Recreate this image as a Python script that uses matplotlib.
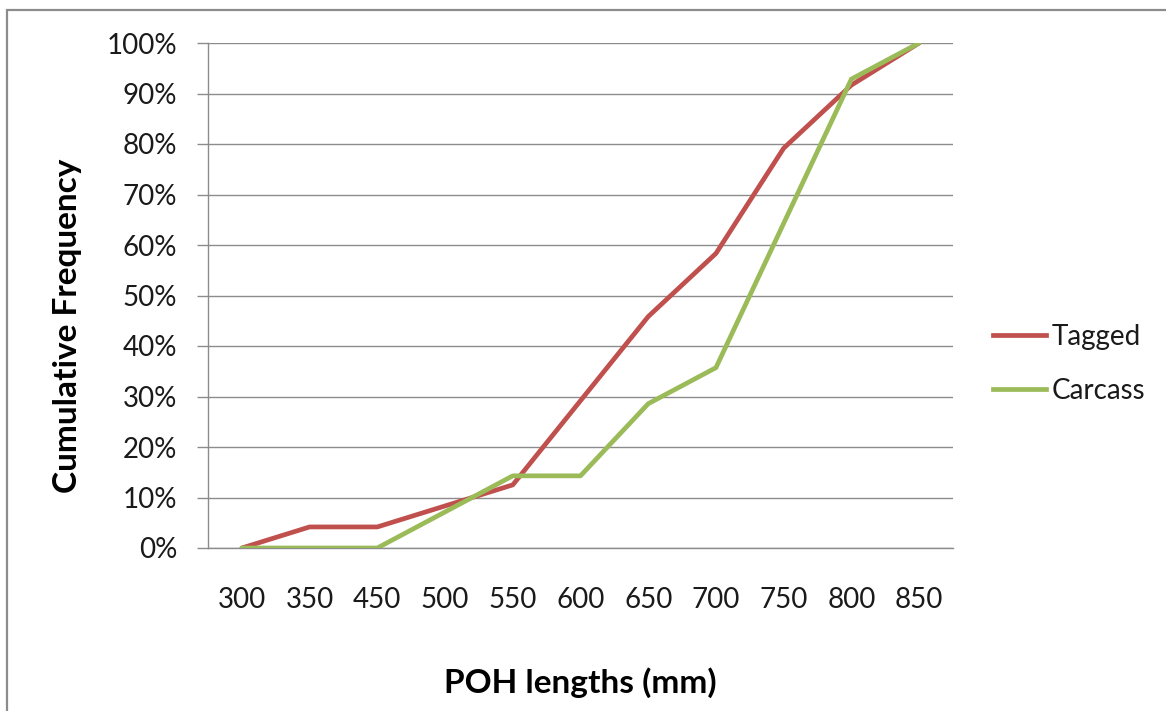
import matplotlib
matplotlib.use("Agg")
import matplotlib.pyplot as plt
from matplotlib.lines import Line2D
from matplotlib.patches import Rectangle
from matplotlib.ticker import PercentFormatter

categories = ["300", "350", "450", "500", "550", "600", "650", "700", "750", "800", "850"]
tagged = [0.0, 4.17, 4.17, 8.33, 12.5, 29.17, 45.83, 58.33, 79.17, 91.67, 100.0]
carcass = [0.0, 0.0, 0.0, 7.14, 14.29, 14.29, 28.57, 35.71, 64.29, 92.86, 100.0]
yticks = [0, 10, 20, 30, 40, 50, 60, 70, 80, 90, 100]

plt.rcParams['font.family'] = ['Lato', 'DejaVu Sans']

W, H = 1166, 711
fig = plt.figure(figsize=(W / 100, H / 100), dpi=100)
fig.patch.set_facecolor("white")

# outer frame
fig.patches.append(Rectangle((7 / W, -0.05), 1.2, (H - 9.5) / H + 0.05, transform=fig.transFigure,
                             fill=False, edgecolor="#8c8c8c", linewidth=1.6, zorder=0))

ax = fig.add_axes([208 / W, (H - 548) / H, (953 - 208) / W, (548 - 43) / H])
x = list(range(len(categories)))
ax.plot(x, tagged, color="#C0504D", linewidth=3.4, solid_capstyle="round", solid_joinstyle="round", zorder=3)
ax.plot(x, carcass, color="#9BBB59", linewidth=3.4, solid_capstyle="round", solid_joinstyle="round", zorder=3)

ax.set_xlim(-0.5, len(categories) - 0.5)
ax.set_ylim(0, 100)
ax.set_yticks(yticks)
ax.yaxis.set_major_formatter(PercentFormatter(decimals=0))
ax.set_xticks(x)
ax.set_xticklabels(categories)
ax.yaxis.grid(True, color="#8c8c8c", linewidth=1.0)
ax.set_axisbelow(True)
for s in ["top", "right"]:
    ax.spines[s].set_visible(False)
for s in ["left", "bottom"]:
    ax.spines[s].set_color("#8c8c8c")
    ax.spines[s].set_linewidth(1.0)
ax.tick_params(axis="y", length=8, width=1.0, color="#8c8c8c", labelsize=20, pad=14, labelcolor="#1a1a1a")
ax.tick_params(axis="x", length=0, labelsize=20, pad=28, labelcolor="#1a1a1a")

ax.set_ylabel("Cumulative Frequency", fontsize=24, fontweight="bold", va="center")
ax.set_xlabel("POH lengths (mm)", fontsize=24, fontweight="bold", va="center")
ax.yaxis.set_label_coords((68 - 208) / (953 - 208), (548 - 326) / (548 - 43))
ax.xaxis.set_label_coords(0.5, (548 - 683) / (548 - 43))

handles = [Line2D([], [], color="#C0504D", linewidth=3.4), Line2D([], [], color="#9BBB59", linewidth=3.4)]
leg = fig.legend(handles, ["Tagged", "Carcass"], loc="center left", bbox_to_anchor=(968 / W, (H - 364) / H),
                 frameon=False, fontsize=20, handlelength=1.9, handletextpad=0.2, labelspacing=1.0)
for t in leg.get_texts():
    t.set_color("#1a1a1a")

fig.savefig("out.png", dpi=100)
